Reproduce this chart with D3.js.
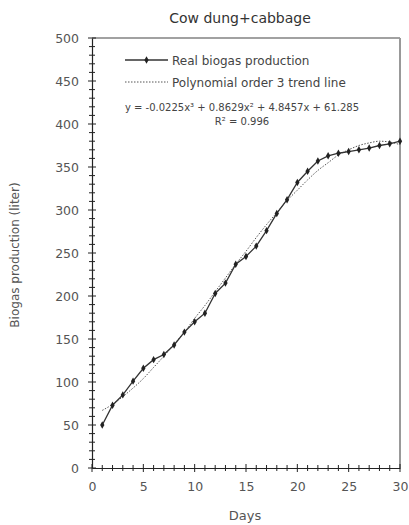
<!DOCTYPE html>
<html><head><meta charset="utf-8">
<script src="https://cdn.jsdelivr.net/npm/d3@7"></script>
<style>body{margin:0;background:#fff}svg{display:block}text{font-family:"DejaVu Sans",sans-serif}</style>
</head><body><svg id="c" width="409" height="525"></svg>
<script>
const days = [1,2,3,4,5,6,7,8,9,10,11,12,13,14,15,16,17,18,19,20,21,22,23,24,25,26,27,28,29,30];
const realBiogas = [50,73,85,101,116,126,132,143,158,170,180,203,215,237,246,258,276,296,312,332,345,357,363,366,368,370,372,375,377,380];
const trendLine = [67,74,83,93,104,117,130,144,158,174,189,205,221,237,252,268,283,297,311,323,335,346,355,364,370,375,378,380,379,376];
const xTicks = [0,5,10,15,20,25,30];
const yTicks = [0,50,100,150,200,250,300,350,400,450,500];
const title = "Cow dung+cabbage";
const xTitle = "Days";
const yTitle = "Biogas production (liter)";
const legendLabels = ["Real biogas production","Polynomial order 3 trend line"];
const equationText = ["y = -0.0225x³ + 0.8629x² + 4.8457x + 61.285","R² = 0.996"];

const svg = d3.select("#c");
const L=92,R=400,T=38,B=468;
const x = d3.scaleLinear().domain([0,30]).range([L,R]);
const y = d3.scaleLinear().domain([0,500]).range([B,T]);

// frame
svg.append("line").attr("x1",L).attr("x2",R).attr("y1",T).attr("y2",T).attr("stroke","#444").attr("stroke-width",1.2);
svg.append("line").attr("x1",R).attr("x2",R).attr("y1",T).attr("y2",B).attr("stroke","#999").attr("stroke-width",2);

// minor ticks (crossing)
const minorY = d3.range(0,501,10);
svg.append("g").selectAll("line").data(minorY).join("line")
  .attr("x1",d=>L-(d%50===0?4:3)).attr("x2",d=>L+(d%50===0?4:3))
  .attr("y1",d=>y(d)).attr("y2",d=>y(d)).attr("stroke","#222").attr("stroke-width",1);
const minorX = d3.range(0,31,1);
svg.append("g").selectAll("line").data(minorX).join("line")
  .attr("x1",d=>x(d)).attr("x2",d=>x(d))
  .attr("y1",d=>B-(d%5===0?4:3)).attr("y2",d=>B+(d%5===0?4:3)).attr("stroke","#222").attr("stroke-width",1);

// axes
const ya = svg.append("g").attr("transform",`translate(${L},0)`)
  .call(d3.axisLeft(y).tickValues(yTicks).tickSize(0).tickPadding(13));
ya.select(".domain").attr("stroke","#222").attr("stroke-width",1.2);
ya.selectAll("text").attr("font-size",12.5).attr("fill","#555").style("font-family","DejaVu Sans");
const xa = svg.append("g").attr("transform",`translate(0,${B})`)
  .call(d3.axisBottom(x).tickValues(xTicks).tickSize(0).tickPadding(14));
xa.select(".domain").attr("stroke","#222").attr("stroke-width",1.2);
xa.selectAll("text").attr("font-size",12.5).attr("fill","#555").style("font-family","DejaVu Sans");

// titles
svg.append("text").attr("x",(L+R)/2 - 6).attr("y",23).attr("text-anchor","middle").attr("font-size",14).attr("fill","#333").text(title);
svg.append("text").attr("x",(L+R)/2 - 1).attr("y",520).attr("text-anchor","middle").attr("font-size",13).attr("fill","#555").text(xTitle);
svg.append("text").attr("transform",`translate(19,255) rotate(-90)`).attr("text-anchor","middle").attr("font-size",12).attr("fill","#555").text(yTitle);

// trend line
const line = d3.line().x((d,i)=>x(days[i])).y(d=>y(d)).curve(d3.curveMonotoneX);
svg.append("path").datum(trendLine).attr("d",line).attr("fill","none").attr("stroke","#555").attr("stroke-width",1).attr("stroke-dasharray","1.5,1.5");

// real data
const line2 = d3.line().x((d,i)=>x(days[i])).y(d=>y(d));
svg.append("path").datum(realBiogas).attr("d",line2).attr("fill","none").attr("stroke","#333").attr("stroke-width",1.3);
svg.append("g").selectAll("path").data(realBiogas).join("path")
  .attr("transform",(d,i)=>`translate(${x(days[i])},${y(d)})`)
  .attr("d",d3.symbol(d3.symbolDiamond,16)).attr("fill","#222");

// legend
const lg = svg.append("g");
lg.append("line").attr("x1",125).attr("x2",168).attr("y1",60).attr("y2",60).attr("stroke","#333").attr("stroke-width",1.3);
lg.append("path").attr("transform","translate(146.5,60)").attr("d",d3.symbol(d3.symbolDiamond,16)).attr("fill","#222");
lg.append("text").attr("x",172).attr("y",64.5).attr("font-size",12).attr("fill","#444").text(legendLabels[0]);
lg.append("line").attr("x1",125).attr("x2",168).attr("y1",82).attr("y2",82).attr("stroke","#555").attr("stroke-width",1).attr("stroke-dasharray","1.5,1.5");
lg.append("text").attr("x",172).attr("y",86.5).attr("font-size",12).attr("fill","#444").text(legendLabels[1]);
svg.append("text").attr("x",242).attr("y",110.5).attr("text-anchor","middle").attr("font-size",10).attr("fill","#444").text(equationText[0]);
svg.append("text").attr("x",242).attr("y",125).attr("text-anchor","middle").attr("font-size",10).attr("fill","#444").text(equationText[1]);
</script></body></html>
